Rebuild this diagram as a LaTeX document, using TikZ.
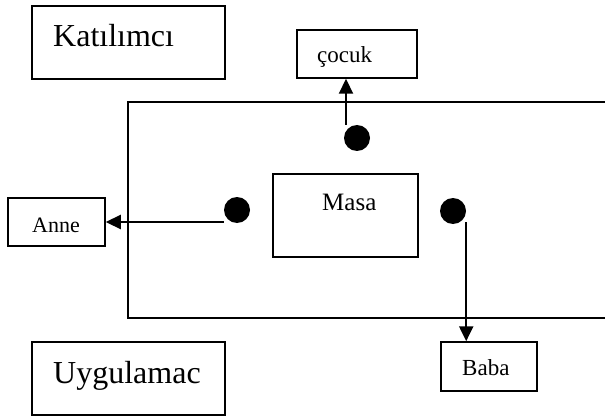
\documentclass[tikz,border=0pt]{standalone}
\usepackage{fontspec}
\setmainfont{Liberation Serif}
\usetikzlibrary{arrows.meta}

\begin{document}
\begin{tikzpicture}[x=1pt,y=1pt,
  box/.style={draw,line width=1.5pt,inner sep=0pt},
  dot/.style={circle,fill=black,inner sep=0pt,minimum size=26pt},
  arr/.style={line width=2.2pt,-{Triangle[length=15pt,width=14pt]}},
  big/.style={font=\fontsize{32}{36}\selectfont,inner sep=0pt,anchor=base west},
  small/.style={font=\fontsize{23}{26}\selectfont,inner sep=0pt,anchor=base west}]
\useasboundingbox (0,0) rectangle (605,-417);
\node[box,minimum width=193pt,minimum height=73pt] (katbox) at (128.5,-42.5) {};
\node[big] (kat) at (53,-47) {Katılımcı};
\node[box,minimum width=120pt,minimum height=48pt] (cocuk) at (357,-54) {};
\node[small] (cocuktxt) at (317,-63) {çocuk};
\draw[line width=1.5pt] (605,-102) -- (128,-102) -- (128,-318) -- (605,-318);
\node[box,minimum width=145pt,minimum height=83pt] (masa) at (345.5,-215.5) {};
\node[small,font=\fontsize{25}{28}\selectfont] (masatxt) at (322,-210) {Masa};
\node[box,minimum width=97pt,minimum height=48pt] (anne) at (56.5,-222) {};
\node[small,font=\fontsize{22}{25}\selectfont] (annetxt) at (32,-232) {Anne};
\node[box,minimum width=96pt,minimum height=49pt] (baba) at (489,-366.5) {};
\node[small] (babatxt) at (462,-375) {Baba};
\node[box,minimum width=193pt,minimum height=73pt] (uygbox) at (128.5,-378.5) {};
\node[big] (uyg) at (53,-383) {Uygulamac};
\node[dot] (dotT) at (357,-138) {};
\node[dot] (dotL) at (237,-210) {};
\node[dot] (dotR) at (453,-211) {};
\coordinate (tA) at ([xshift=-11pt]dotT.north);
\coordinate (lA) at ([yshift=-12pt]dotL.west);
\coordinate (rA) at ([yshift=-11pt]dotR.east);
\draw[arr] (tA) -- (tA |- cocuk.south);
\draw[arr] (lA) -- (lA -| anne.east);
\draw[arr] (rA) -- (rA |- baba.north);
\end{tikzpicture}
\end{document}
